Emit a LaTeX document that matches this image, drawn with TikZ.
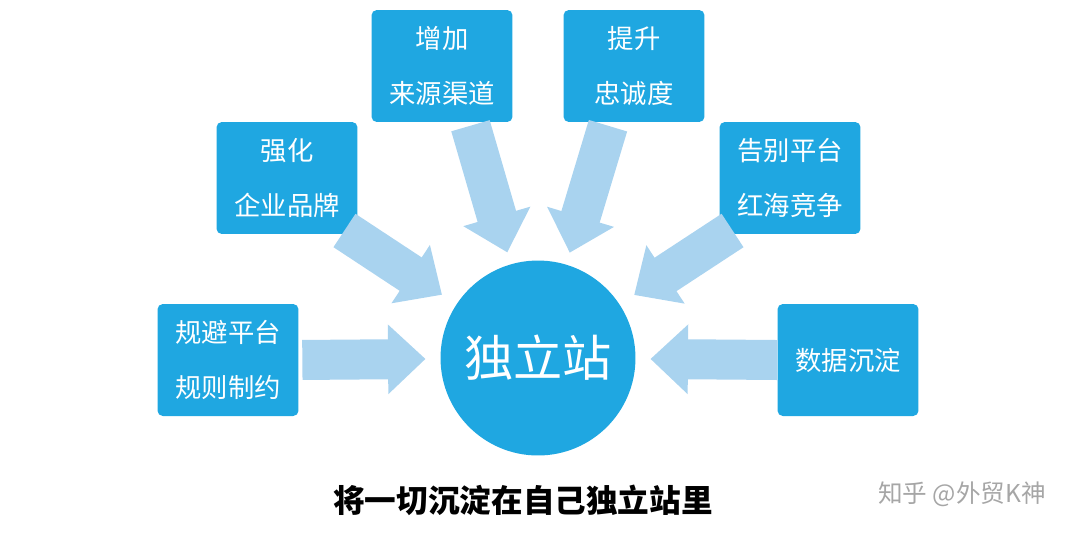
\documentclass[tikz,border=0pt]{standalone}
\usepackage{fontspec}
\newfontfamily\cjk{Noto Sans CJK SC}
\usetikzlibrary{arrows.meta}
\definecolor{hubblue}{HTML}{1FA7E1}
\definecolor{arrowblue}{HTML}{A9D3EF}
\begin{document}
\begin{tikzpicture}[x=0.02cm,y=-0.02cm,
    box/.style={rectangle, rounded corners=3pt, fill=hubblue, minimum width=2.82cm, minimum height=2.24cm, align=center, text=white, font=\cjk\fontsize{15}{31}\selectfont},
    bigarrow/.style={arrowblue, line width=0.8cm, -{Triangle[length=0.75cm, width=1.35cm]}}
  ]
    \useasboundingbox (0,0) rectangle (1076,539);
    % Hub
    \node[circle, fill=hubblue, minimum size=3.9cm, text=white, font=\cjk\fontsize{28}{30}\selectfont] (hub) at (538,358) {独立站};

    % Boxes
    \node[box] (rules) at (228,360) {规避平台\\规则制约};
    \node[box] (brand) at (287,178) {强化\\企业品牌};
    \node[box] (source) at (442,66) {增加\\来源渠道};
    \node[box] (loyal) at (634,66) {提升\\忠诚度};
    \node[box] (redsea) at (790,178) {告别平台\\红海竞争};
    \node[box] (data) at (848,360) {数据沉淀};

    % Arrows
    \draw[bigarrow, shorten <=2pt, shorten >=2.25cm] (rules.east) -- (hub.center);
    \draw[bigarrow, shorten >=2.25cm] (data.west) -- (hub.center);
    \draw[bigarrow, shorten <=-4pt, shorten >=2.3cm] ([xshift=-0.15cm]brand.south east) -- (hub.center);
    \draw[bigarrow, shorten <=2pt, shorten >=2.2cm] ([xshift=0.55cm]source.south) -- (hub.center);
    \draw[bigarrow, shorten <=2pt, shorten >=2.2cm] ([xshift=-0.5cm]loyal.south) -- (hub.center);
    \draw[bigarrow, shorten <=-4pt, shorten >=2.3cm] ([xshift=0.15cm]redsea.south west) -- (hub.center);

    % Caption
    \node[font=\cjk\bfseries\fontsize{18}{20}\selectfont] (caption) at (523,500) {将一切沉淀在自己独立站里};
    \node[text=gray!70, font=\cjk\fontsize{14}{16}\selectfont] (mark) at (962,494) {知乎 @外贸K神};
  \end{tikzpicture}
\end{document}
